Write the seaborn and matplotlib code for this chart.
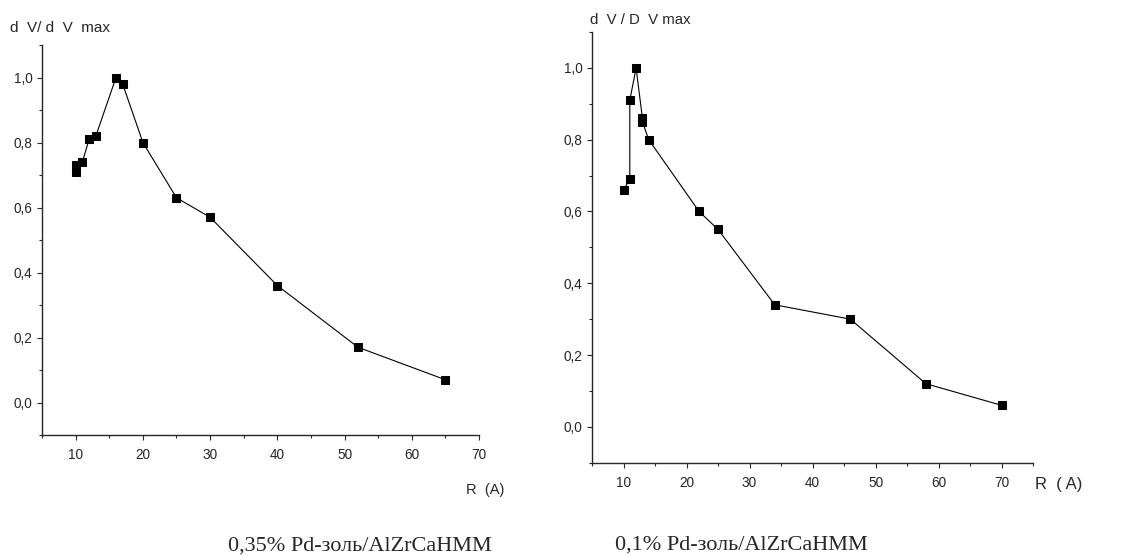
import numpy as np
import pandas as pd
import matplotlib
matplotlib.use("Agg")
import matplotlib.pyplot as plt
from matplotlib.ticker import MultipleLocator, FuncFormatter
import seaborn as sns

# 0,35% Pd-золь/AlZrCaHMM
r_left = [10, 10, 11, 12, 13, 16, 17, 20, 25, 30, 40, 52, 65]
v_left = [0.71, 0.73, 0.74, 0.81, 0.82, 1.00, 0.98, 0.80, 0.63, 0.57, 0.36, 0.17, 0.07]

# 0,1% Pd-золь/AlZrCaHMM
r_right = [10, 11, 11, 12, 13, 13, 14, 22, 25, 34, 46, 58, 70]
v_right = [0.66, 0.69, 0.91, 1.00, 0.86, 0.85, 0.80, 0.60, 0.55, 0.34, 0.30, 0.12, 0.06]

sns.set_style("ticks")
plt.rcParams['font.family'] = ['Liberation Sans', 'DejaVu Sans']

fig = plt.figure(figsize=(11.3, 5.56), dpi=100)
ax1 = fig.add_axes([0.0372, 0.2176, 0.3867, 0.7014])
ax2 = fig.add_axes([0.5239, 0.1678, 0.3903, 0.7746])

comma = FuncFormatter(lambda v, p: f"{v:.1f}".replace('.', ','))


def draw(ax, r, v, xmax):
    df = pd.DataFrame({'R': r, 'V': v})
    sns.lineplot(data=df, x='R', y='V', ax=ax, sort=False, estimator=None,
                 color='black', lw=0.8, marker='s', markersize=6,
                 markeredgecolor='black', markerfacecolor='black')
    ax.set_xlim(5, xmax)
    ax.set_ylim(-0.1, 1.1)
    ax.xaxis.set_minor_locator(MultipleLocator(5))
    ax.yaxis.set_minor_locator(MultipleLocator(0.1))
    ax.set_xticks([10, 20, 30, 40, 50, 60, 70])
    ax.set_yticks([0.0, 0.2, 0.4, 0.6, 0.8, 1.0])
    ax.yaxis.set_major_formatter(comma)
    ax.tick_params(which='major', length=3.5, width=0.8, labelsize=9.8, direction='out')
    ax.tick_params(which='minor', length=2.2, width=0.8, direction='out')
    ax.tick_params(axis='x', pad=6)
    for s in ('top', 'right'):
        ax.spines[s].set_visible(False)
    for s in ('left', 'bottom'):
        ax.spines[s].set_linewidth(1.0)
    ax.set_xlabel('')
    ax.set_ylabel('')


draw(ax1, r_left, v_left, 70)
draw(ax2, r_right, v_right, 75)

fig.text(10 / 1130, 1 - 28 / 556, 'd  V/ d  V  max', fontsize=11, va='center', ha='left')
fig.text(466 / 1130, 1 - 490 / 556, 'R  (A)', fontsize=10.5, va='center', ha='left')
fig.text(590 / 1130, 1 - 20 / 556, 'd  V / D  V max', fontsize=10.8, va='center', ha='left')
fig.text(1035 / 1130, 1 - 485 / 556, 'R  ( A)', fontsize=12, va='center', ha='left')

fig.text(360 / 1130, 1 - 546 / 556, '0,35% Pd-золь/AlZrCaHMM', fontsize=16,
         family=['Liberation Serif', 'DejaVu Serif'], ha='center', va='center')
fig.text(741 / 1130, 1 - 545 / 556, '0,1% Pd-золь/AlZrCaHMM', fontsize=16,
         family=['Liberation Serif', 'DejaVu Serif'], ha='center', va='center')

fig.savefig('out.png', dpi=100, facecolor='white')
